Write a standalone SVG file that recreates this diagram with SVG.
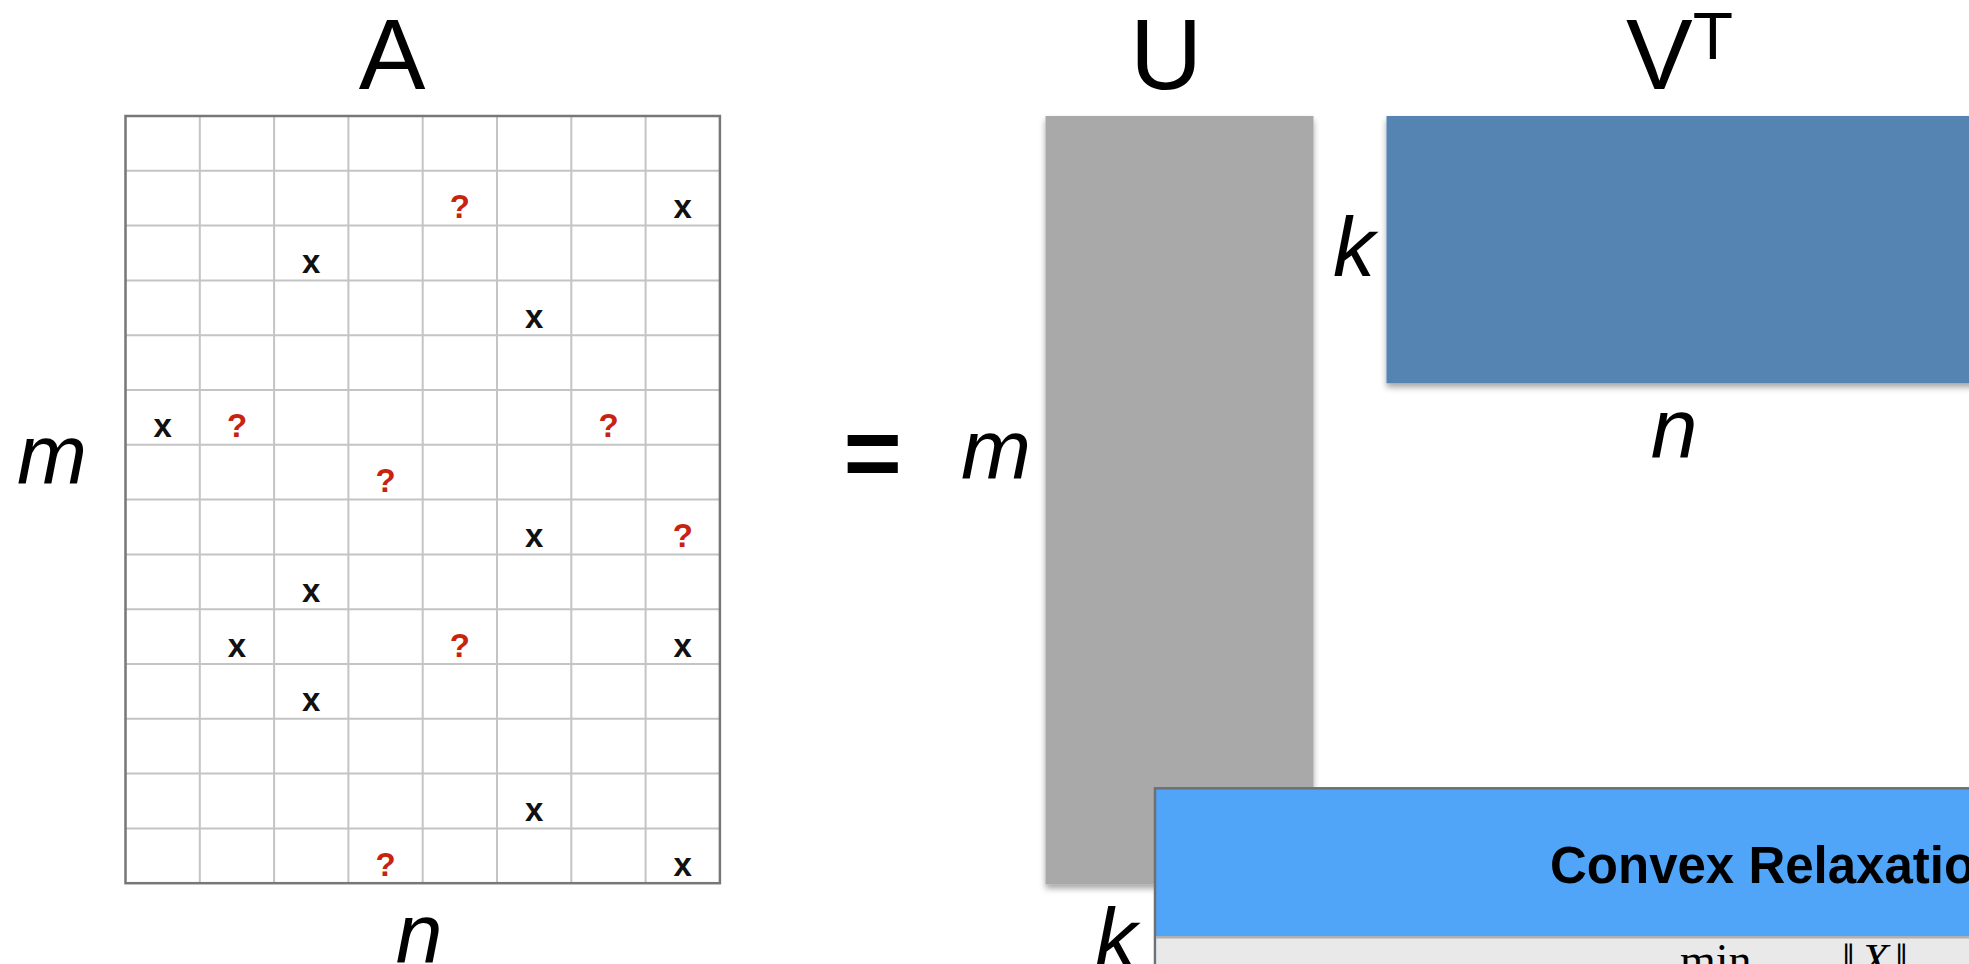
<svg xmlns="http://www.w3.org/2000/svg" width="1969" height="964" viewBox="0 0 1969 964">
<style>
.lbl{font-family:"Liberation Sans",Arial,sans-serif;fill:#000}
.big{font-size:100px}
.it{font-size:84px;font-style:italic}
.mk{font-family:"Liberation Sans",Arial,sans-serif;font-weight:bold;font-size:33px;text-anchor:middle}
.x{fill:#111}
.q{fill:#c8230e}
.inner{stroke:#c4c4c4;stroke-width:2;fill:none}
.outer{stroke:#777;stroke-width:2.5;fill:none}
.math{font-family:"Liberation Serif","Times New Roman",serif;font-size:46px;fill:#000}
</style>
<defs>
<filter id="shadow" x="-10%" y="-10%" width="120%" height="120%">
<feDropShadow dx="0" dy="4" stdDeviation="3" flood-color="#000" flood-opacity="0.35"/>
</filter>
</defs>
<rect width="1969" height="964" fill="#fff"/>

<g id="matrix-A">
<rect x="125.5" y="116" width="594.4" height="767.2" fill="#fff"/>
<g class="inner">
<path d="M199.8 116V883.2M274.1 116V883.2M348.4 116V883.2M422.7 116V883.2M497 116V883.2M571.3 116V883.2M645.6 116V883.2"/>
<path d="M125.5 170.8H719.9M125.5 225.6H719.9M125.5 280.4H719.9M125.5 335.2H719.9M125.5 390H719.9M125.5 444.8H719.9M125.5 499.6H719.9M125.5 554.4H719.9M125.5 609.2H719.9M125.5 664H719.9M125.5 718.8H719.9M125.5 773.6H719.9M125.5 828.4H719.9"/>
</g>
<rect class="outer" x="125.5" y="116" width="594.4" height="767.2"/>
<g id="entries">
<text class="mk q" x="459.9" y="218.1">?</text>
<text class="mk x" x="682.8" y="218.1">x</text>
<text class="mk x" x="311.3" y="272.9">x</text>
<text class="mk x" x="534.2" y="327.7">x</text>
<text class="mk x" x="162.6" y="437.3">x</text>
<text class="mk q" x="237" y="437.3">?</text>
<text class="mk q" x="608.5" y="437.3">?</text>
<text class="mk q" x="385.6" y="492.1">?</text>
<text class="mk x" x="534.2" y="546.9">x</text>
<text class="mk q" x="682.8" y="546.9">?</text>
<text class="mk x" x="311.3" y="601.7">x</text>
<text class="mk x" x="237" y="656.5">x</text>
<text class="mk q" x="459.9" y="656.5">?</text>
<text class="mk x" x="682.8" y="656.5">x</text>
<text class="mk x" x="311.3" y="711.3">x</text>
<text class="mk x" x="534.2" y="820.9">x</text>
<text class="mk q" x="385.6" y="875.7">?</text>
<text class="mk x" x="682.8" y="875.7">x</text>
</g>
<text class="lbl big" x="392" y="89.3" text-anchor="middle">A</text>
<text class="lbl it" x="52" y="482.7" text-anchor="middle">m</text>
<text class="lbl it" x="419" y="962" text-anchor="middle">n</text>
</g>

<g id="equals">
<text class="lbl" x="872.7" y="487" font-size="100" font-weight="bold" text-anchor="middle">=</text>
</g>

<g id="matrix-U">
<rect x="1045.5" y="116" width="268" height="768.5" fill="#a9a9a9" filter="url(#shadow)"/>
<text class="lbl big" x="1166" y="89.3" text-anchor="middle">U</text>
<text class="lbl it" x="996" y="478.3" text-anchor="middle">m</text>
<text class="lbl it" x="1116" y="967" text-anchor="middle">k</text>
</g>

<g id="matrix-VT">
<rect x="1386.5" y="116" width="600" height="267.3" fill="#5584b3" filter="url(#shadow)"/>
<text class="lbl big" x="1679.5" y="89.3" text-anchor="middle">V<tspan font-size="66" dy="-30">T</tspan></text>
<text class="lbl it" x="1354" y="276" text-anchor="middle">k</text>
<text class="lbl it" x="1674" y="456.7" text-anchor="middle">n</text>
</g>

<g id="convex-relaxation">
<rect x="1155" y="788.3" width="830" height="200" fill="#51a5f8" stroke="#707070" stroke-width="2.5"/>
<rect x="1156.2" y="937.3" width="820" height="40" fill="#e9e9e9"/>
<line x1="1156.2" y1="937.3" x2="1969" y2="937.3" stroke="#b0b0b0" stroke-width="2.5"/>
<text x="1550" y="883.3" font-family="'Liberation Sans',Arial,sans-serif" font-weight="bold" font-size="51" fill="#000">Convex Relaxation</text>
<text class="math" x="1680" y="976">min</text>
<text class="math" x="1842" y="976">‖<tspan dx="6" font-style="italic">X</tspan><tspan dx="6">‖</tspan></text>
</g>
</svg>
